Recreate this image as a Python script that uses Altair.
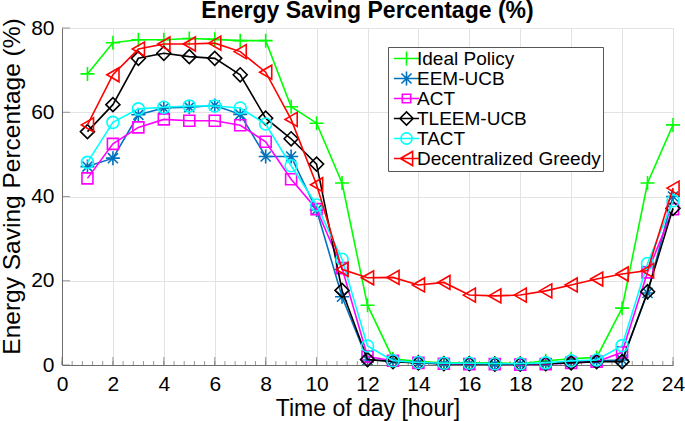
import altair as alt
import pandas as pd
import numpy as np

hours = list(range(1, 25))
series_names = ["Ideal Policy", "EEM-UCB", "ACT", "TLEEM-UCB", "TACT", "Decentralized Greedy"]
colors = ["#00ff00", "#0072bd", "#ff00ff", "#000000", "#00ffff", "#ff0000"]

ideal = [69.1, 76.5, 77.2, 77.2, 77.5, 77.3, 77.0, 77.0, 61.3, 57.4, 43.2, 14.2,
         1.5, 0.8, 0.5, 0.5, 0.5, 0.3, 1.0, 1.5, 1.8, 13.5, 43.2, 57.0]
eem_ucb = [47.1, 49.1, 59.4, 61.0, 61.2, 61.6, 59.5, 49.5, 49.5, 36.8, 16.2, 1.2,
           1.0, 0.5, 0.3, 0.3, 0.2, 0.2, 0.3, 0.8, 1.0, 1.2, 17.1, 40.0]
act = [44.3, 52.5, 56.4, 58.3, 58.0, 58.0, 56.9, 53.0, 44.1, 37.0, 23.0, 2.0,
       1.0, 0.5, 0.3, 0.2, 0.2, 0.1, 0.2, 0.5, 0.8, 3.0, 22.0, 37.0]
tleem_ucb = [55.4, 61.8, 72.8, 74.0, 73.2, 72.8, 68.9, 58.6, 53.7, 47.7, 17.7, 1.3,
             0.8, 0.5, 0.3, 0.3, 0.2, 0.2, 0.3, 0.5, 0.8, 0.8, 17.4, 37.2]
tact = [48.1, 57.6, 60.8, 61.2, 61.5, 61.5, 61.0, 57.2, 47.3, 38.0, 25.1, 4.5,
        1.0, 0.6, 0.4, 0.4, 0.3, 0.3, 0.5, 1.0, 1.2, 4.6, 24.1, 39.0]
greedy = [57.0, 68.9, 75.0, 76.2, 76.2, 76.4, 74.4, 69.5, 58.3, 42.8, 22.7, 20.7,
          20.8, 19.0, 19.6, 16.6, 16.4, 16.6, 17.6, 19.0, 20.4, 21.6, 22.4, 42.0]

x_major = list(range(0, 25, 2))
x_minor = [round(v, 1) for v in np.arange(0, 24.01, 0.4)]
y_major = [0, 20, 40, 60, 80]

values = [ideal, eem_ucb, act, tleem_ucb, tact, greedy]

# marker shapes (plot) and sizes
plus = "M-1,0H1M0,-1V1"
aster = "M-1,0H1M0,-1V1M-0.72,-0.72L0.72,0.72M-0.72,0.72L0.72,-0.72"
mark_shapes = [plus, aster, "square", "diamond", "circle", "triangle-left"]
mark_sizes = [196, 196, 121, 196, 144, 196]

# legend symbols: line through marker
L = "M-1.8,0H1.8"
legend_paths = [
    L + "M0,-1V1",
    L + "M0,-1V1M-0.72,-0.72L0.72,0.72M-0.72,0.72L0.72,-0.72",
    L + "M-0.6,-0.6H0.6V0.6H-0.6Z",
    L + "M-0.95,0L0,-0.95L0.95,0L0,0.95Z",
    L + "M-0.8,0A0.8,0.8,0,1,1,0.8,0A0.8,0.8,0,1,1,-0.8,0",
    L + "M-0.87,0L0.87,-1L0.87,1Z",
]

W, H = 611, 337
FONT = "Liberation Sans"
XT = "Time of day [hour]"
YT = "Energy Saving Percentage (%)"

rows = []
for name, vals in zip(series_names, values):
    for h, v in zip(hours, vals):
        rows.append({"series": name, "hour": h, "value": v})
df = pd.DataFrame(rows)

xscale = alt.Scale(domain=[0, 24], nice=False, zero=False)
yscale = alt.Scale(domain=[0, 80], nice=False)

xaxis = alt.Axis(values=x_major, title=XT, grid=True, tickSize=0,
                 labelFontSize=21, titleFontSize=23, labelPadding=8,
                 titleBaseline="alphabetic", titleY=50,
                 titleFontWeight="normal", labelFont=FONT, titleFont=FONT,
                 gridColor="#e3e3e3", domainColor="#6e6e6e", labelColor="#000",
                 titleColor="#000", labelFlush=False)
yaxis = alt.Axis(values=y_major, title=YT, grid=True, tickSize=0,
                 labelFontSize=21, titleFontSize=24.5, labelPadding=8,
                 titleBaseline="alphabetic", titleX=-43, titleY=158, titleAngle=270,
                 titleAlign="center",
                 titleFontWeight="normal", labelFont=FONT, titleFont=FONT,
                 gridColor="#e3e3e3", domainColor="#6e6e6e", labelColor="#000",
                 titleColor="#000", labelFlush=False)


def X(field):
    return alt.X(field, scale=xscale, axis=xaxis, title=XT)


def Y(field):
    return alt.Y(field, scale=yscale, axis=yaxis, title=YT)


base = alt.Chart(df)
layers = []

# inward ticks
tick_color = "#6e6e6e"
layers.append(
    alt.Chart(pd.DataFrame({"t": x_minor})).mark_tick(orient="vertical", size=4, thickness=1, color=tick_color)
    .encode(x=X("t:Q"), y=alt.value(H - 2))
)
layers.append(
    alt.Chart(pd.DataFrame({"t": x_major})).mark_tick(orient="vertical", size=8, thickness=1, color=tick_color)
    .encode(x=X("t:Q"), y=alt.value(H - 4))
)
layers.append(
    alt.Chart(pd.DataFrame({"t": y_major})).mark_tick(orient="horizontal", size=8, thickness=1, color=tick_color)
    .encode(y=Y("t:Q"), x=alt.value(4))
)

for name, col, shp, sz in zip(series_names, colors, mark_shapes, mark_sizes):
    sub = base.transform_filter(alt.datum.series == name)
    layers.append(
        sub.mark_line(color=col, strokeWidth=1.6).encode(x=X("hour:Q"), y=Y("value:Q"))
    )
    layers.append(
        sub.mark_point(color=col, shape=shp, size=sz, filled=False, strokeWidth=1.6, opacity=1)
        .encode(x=X("hour:Q"), y=Y("value:Q"))
    )

legend_kw = dict(
    title=None, orient="none", legendX=326, legendY=19,
    labelFontSize=19, labelFont=FONT, labelColor="#000", labelLimit=400,
    symbolSize=196, symbolStrokeWidth=1.6, symbolOpacity=1,
    symbolOffset=7, labelOffset=1, rowPadding=-1, padding=2,
    strokeColor="#555555", fillColor="#ffffff",
)
layers.append(
    base.mark_point(opacity=0, filled=False).encode(
        x=X("hour:Q"),
        y=Y("value:Q"),
        color=alt.Color("series:N", scale=alt.Scale(domain=series_names, range=colors),
                        legend=alt.Legend(**legend_kw)),
        shape=alt.Shape("series:N", scale=alt.Scale(domain=series_names, range=legend_paths),
                        legend=alt.Legend(**legend_kw)),
    )
)

chart = alt.layer(*layers).properties(
    width=W, height=H,
    title=alt.TitleParams("Energy Saving Percentage (%)", fontSize=23, font=FONT,
                          fontWeight="bold", color="#000", offset=0, dy=6,
                          anchor="middle"),
    autosize=alt.AutoSizeParams(type="none"),
    padding={"left": 62, "top": 28, "right": 12, "bottom": 56},
).configure_view(stroke="#8a8a8a", strokeWidth=1).configure(background="white")

chart.save("out.html", embed_options={"renderer": "svg", "actions": False})
